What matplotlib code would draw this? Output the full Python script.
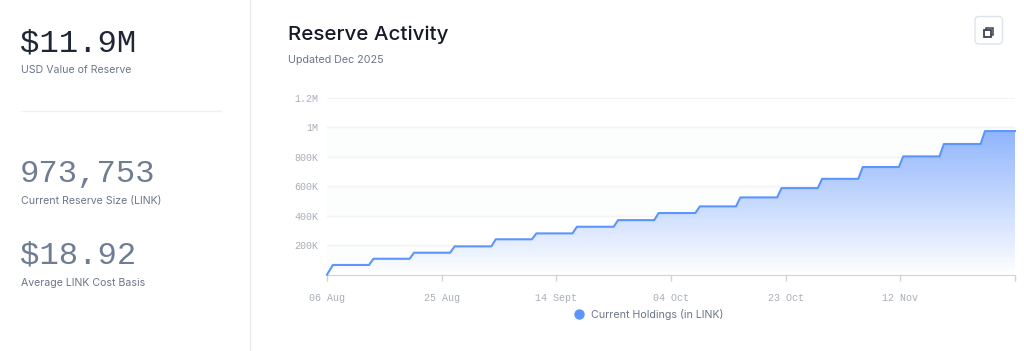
import numpy as np
import matplotlib
matplotlib.use('Agg')
from matplotlib import pyplot as plt
from matplotlib.lines import Line2D
from matplotlib.patches import FancyBboxPatch, Rectangle, PathPatch
from matplotlib.path import Path
from matplotlib.colors import LinearSegmentedColormap

# Days counted from 06 Aug, the level is reached on each of these days
buy_days = [1, 7.9, 14.8, 21.7, 28.7, 35.6, 42.5, 49.5, 56.4, 63.4, 70.3, 77.3, 84.2, 91.1, 98, 104.9, 111.9]
holdings = [66000, 108000, 149000, 192000, 240000, 280000, 325000, 370000, 418000,
            463000, 524000, 587000, 650000, 730000, 802000, 886000, 973753]
last_day = 117

y_ticks = [200000, 400000, 600000, 800000, 1000000, 1200000]
y_labels = ['200K', '400K', '600K', '800K', '1M', '1.2M']
x_ticks = [0, 19.5, 39, 58.5, 78, 97.5, 117]
x_labels = ['06 Aug', '25 Aug', '14 Sept', '04 Oct', '23 Oct', '12 Nov', '']

W, H = 1024, 351
MONO = 'Liberation Mono'
SANS = 'Inter'


def fx(px):
    return px / W


def fy(py):
    return 1 - py / H


fig = plt.figure(figsize=(W / 100, H / 100), dpi=100, facecolor='white')

# Left panel
fig.text(fx(20), fy(51), '$11.9M', family=MONO, fontsize=23.2, color='#1f2636', va='baseline')
fig.text(fx(21), fy(73), 'USD Value of Reserve', family=SANS, fontsize=7.6, color='#6b7688', va='baseline')
fig.text(fx(20), fy(182), '973,753', family=MONO, fontsize=23.2, color='#6f7d92', va='baseline')
fig.text(fx(21), fy(204), 'Current Reserve Size (LINK)', family=SANS, fontsize=7.6, color='#6b7688', va='baseline')
fig.text(fx(20), fy(263.5), '$18.92', family=MONO, fontsize=23.2, color='#6f7d92', va='baseline')
fig.text(fx(21), fy(286), 'Average LINK Cost Basis', family=SANS, fontsize=7.6, color='#6b7688', va='baseline')
fig.add_artist(Line2D([fx(21), fx(221)], [fy(110.5), fy(110.5)], color='#eff1f4', lw=1))
fig.add_artist(Line2D([fx(250), fx(250)], [0, 1], color='#e9ebf0', lw=1))

# Title
fig.text(fx(288), fy(40), 'Reserve Activity', family=SANS, fontsize=14.8, fontweight='medium', color='#141a26', va='baseline')
fig.text(fx(288), fy(63), 'Updated Dec 2025', family=SANS, fontsize=7.7, color='#6b7688', va='baseline')

# Copy button
fig.add_artist(FancyBboxPatch((fx(975), fy(44)), fx(27.5), 27.5 / H, boxstyle='round,pad=0,rounding_size=0.004',
                              transform=fig.transFigure, fc='white', ec='#dfe3ec', lw=1, mutation_aspect=W / H))
fig.add_artist(Rectangle((fx(986), fy(35)), fx(7), 7 / H, transform=fig.transFigure, fc='none', ec='#3d4350', lw=1.1))
fig.add_artist(Rectangle((fx(984), fy(36.5)), fx(7), 7 / H, transform=fig.transFigure, fc='white', ec='#3d4350', lw=1.3))

# Chart
ax = fig.add_axes([fx(327), fy(274.7), fx(688), 177 / H])

# Line vertices: flat until shortly before a buy, then a short rise
xs = [0]
ys = [0]
for d, v in zip(buy_days, holdings):
    if d > 1:
        xs.append(d - 0.75)
        ys.append(ys[-1])
    xs.append(d)
    ys.append(v)
xs.append(last_day)
ys.append(ys[-1])

# Alternating bands and grid
for lo, hi in [(0, 200000), (400000, 600000), (800000, 1000000)]:
    ax.axhspan(lo, hi, color='#fcfdfd', lw=0, zorder=0)
for t in y_ticks:
    ax.axhline(t, color='#f1f3f6', lw=1.4 if t == 1200000 else 1, zorder=1)

# Gradient under the line
cmap = LinearSegmentedColormap.from_list('holdings', ['#ffffff', '#8db3fd'])
grad = ax.imshow(np.linspace(1, 0, 256).reshape(-1, 1), cmap=cmap, aspect='auto', zorder=2, alpha=0.97,
                 extent=[0, last_day, 0, max(holdings)], vmin=0, vmax=1)
poly = np.column_stack([xs + [last_day, 0], ys + [0, 0]])
clip = PathPatch(Path(poly), transform=ax.transData, fc='none', ec='none')
ax.add_patch(clip)
grad.set_clip_path(clip)
ax.set_xlim(0, last_day)
ax.set_ylim(0, 1200000)

ax.plot(xs, ys, color='#5c95fb', lw=1.5, zorder=3, solid_joinstyle='round', clip_on=False)

for s in ['top', 'left', 'right']:
    ax.spines[s].set_visible(False)
ax.spines['bottom'].set_color('#cfd3da')
ax.patch.set_alpha(0)

ax.set_yticks(y_ticks)
ax.set_yticklabels(y_labels, family=MONO, fontsize=7.2, color='#a9aeb7')
ax.set_xticks(x_ticks)
ax.set_xticklabels(x_labels, family=MONO, fontsize=7.2, color='#a9aeb7')
ax.tick_params(axis='y', length=0, pad=6)
ax.tick_params(axis='x', length=4, color='#cfd3da', width=1, pad=9)

handle = Line2D([], [], marker='o', ls='none', color='#5c95fb', markersize=6.5)
fig.legend([handle], ['Current Holdings (in LINK)'], loc='center', bbox_to_anchor=(fx(646), fy(314)),
           frameon=False, handletextpad=0.1, prop={'family': SANS, 'size': 7.7}, labelcolor='#6b7688')

plt.savefig('out.png', dpi=100)
